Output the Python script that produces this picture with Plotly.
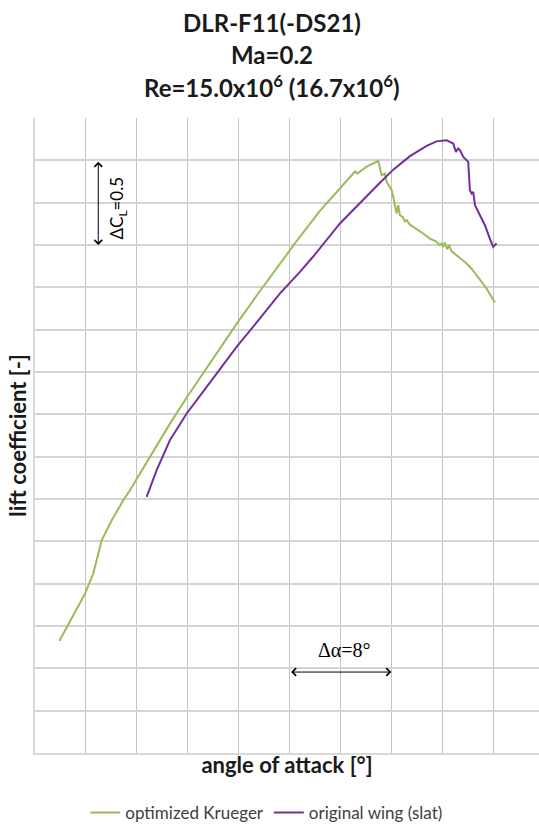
import plotly.graph_objects as go

# ---- data ----
krueger_alpha = [-6.09, -4.07, -3.42, -2.76, -1.97, -1.06, -0.54, 1.03, 2.60, 4.04, 5.75, 7.84, 9.42,
                 10.85, 12.82, 14.39, 15.83, 17.14, 17.32, 18.06, 18.89, 18.97,
                 19.23, 19.49, 19.63, 19.89, 20.02, 20.15, 20.28, 20.41, 20.54, 20.67, 20.9, 21.05, 21.2,
                 21.45, 21.72, 22.1, 22.5, 23.03, 23.5, 23.81, 23.95, 24.07, 24.21, 24.39, 24.54, 24.73,
                 25.12, 25.5, 25.91, 26.3, 26.70, 27.1, 27.48, 28.13]
krueger_cl = [0.162, 0.441, 0.560, 0.756, 0.874, 0.993, 1.052, 1.248, 1.445, 1.613, 1.805, 2.034, 2.202,
              2.351, 2.550, 2.701, 2.822, 2.934, 2.922, 2.963, 2.993, 2.997,
              2.912, 2.922, 2.873, 2.843, 2.824, 2.784, 2.735, 2.686, 2.735, 2.676, 2.665, 2.640, 2.647,
              2.620, 2.607, 2.590, 2.568, 2.538, 2.522, 2.499, 2.509, 2.489, 2.515, 2.475, 2.499, 2.463,
              2.440, 2.418, 2.391, 2.360, 2.322, 2.285, 2.243, 2.160]

slat_alpha = [0.77, 1.56, 2.60, 3.92, 5.49, 7.84, 9.80, 11.25, 12.82, 13.86, 15.96, 18.06,
              19.10, 20.15, 21.46, 22.77, 23.55, 24.34, 24.86, 25.07, 25.25, 25.39, 25.65, 26.04,
              26.17, 26.30, 26.43, 26.57, 26.96, 27.35, 27.74, 28.00, 28.13, 28.27]
slat_cl = [1.012, 1.170, 1.347, 1.505, 1.662, 1.898, 2.078, 2.214, 2.341, 2.432, 2.627, 2.790,
           2.868, 2.945, 3.025, 3.085, 3.112, 3.119, 3.099, 3.050, 3.070, 3.060, 3.020, 2.991,
           2.824, 2.804, 2.814, 2.735, 2.676, 2.617, 2.538, 2.489, 2.499, 2.509]

series_names = ["optimized Krueger", "original wing (slat)"]
series_colors = ["#9BBB59", "#7030A0"]

title_lines = ["DLR-F11(-DS21)", "Ma=0.2", "Re=15.0x10<sup>6</sup> (16.7x10<sup>6</sup>)"]
x_title = "angle of attack [°]"
y_title = "lift coefficient [-]"

FONT = "Lato, 'Open Sans', sans-serif"

fig = go.Figure()
fig.add_trace(go.Scatter(x=krueger_alpha, y=krueger_cl, mode="lines", name=series_names[0],
                         line=dict(color=series_colors[0], width=2)))
fig.add_trace(go.Scatter(x=slat_alpha, y=slat_cl, mode="lines", name=series_names[1],
                         line=dict(color=series_colors[1], width=2)))

W, H = 539, 825
ML, MR, MT, MB = 35, 0, 118, 72

annotations = []
for txt, ypx in zip(title_lines, [22, 54, 86]):
    annotations.append(dict(text=txt, xref="paper", yref="paper",
                            x=(272 - ML) / (W - ML - MR), y=(H - MB - ypx) / (H - MT - MB),
                            xanchor="center", yanchor="middle", showarrow=False,
                            font=dict(family=FONT, size=24, color="#1a1a1a", weight="bold")))

# delta CL arrow
annotations.append(dict(x=-3.03, y=2.5, ax=-3.03, ay=3.0, xref="x", yref="y", axref="x", ayref="y",
                        text="", showarrow=True, arrowhead=4, startarrowhead=4, arrowside="end+start",
                        arrowsize=1.5, startarrowsize=1.5, arrowwidth=1, arrowcolor="#000000"))
annotations.append(dict(x=-1.46, y=2.717, xref="x", yref="y", text="ΔC<sub>L</sub>=0.5", textangle=-90,
                        showarrow=False, font=dict(family=FONT, size=17, color="#000000")))
# delta alpha arrow
annotations.append(dict(x=20, y=-0.022, ax=12, ay=-0.022, xref="x", yref="y", axref="x", ayref="y",
                        text="", showarrow=True, arrowhead=4, startarrowhead=4, arrowside="end+start",
                        arrowsize=1.5, startarrowsize=1.5, arrowwidth=1, arrowcolor="#000000"))
annotations.append(dict(x=16.3, y=0.107, xref="x", yref="y", text="Δα=8°",
                        showarrow=False, font=dict(family="'Liberation Serif', serif", size=20, color="#000000")))

fig.update_layout(
    width=W, height=H,
    margin=dict(l=ML, r=MR, t=MT, b=MB, pad=0),
    paper_bgcolor="white", plot_bgcolor="white",
    font=dict(family=FONT, color="#1a1a1a"),
    showlegend=True,
    legend=dict(orientation="h", xref="container", yref="container", x=0.495, xanchor="center",
                y=(H - 813) / H, yanchor="middle", itemwidth=30,
                font=dict(family=FONT, size=17, color="#404040")),
    annotations=annotations,
    xaxis=dict(range=[-8, 31.6], tick0=-8, dtick=4, showgrid=True, gridcolor="#c4c4c4", gridwidth=1,
               showticklabels=False, ticks="", zeroline=False, showline=True, linecolor="#d9d9d9",
               linewidth=2, fixedrange=True,
               title=dict(text=x_title, standoff=4,
                          font=dict(family=FONT, size=22, color="#1a1a1a", weight="bold"))),
    yaxis=dict(range=[-0.5, 3.25], tick0=-0.5, dtick=0.25, showgrid=True, gridcolor="#d4d4d4", gridwidth=1.5,
               showticklabels=False, ticks="", zeroline=False, showline=True, linecolor="#d9d9d9",
               linewidth=2, fixedrange=True,
               title=dict(text=y_title, standoff=0,
                          font=dict(family=FONT, size=22, color="#1a1a1a", weight="bold"))),
)

fig.write_html("out.html")
